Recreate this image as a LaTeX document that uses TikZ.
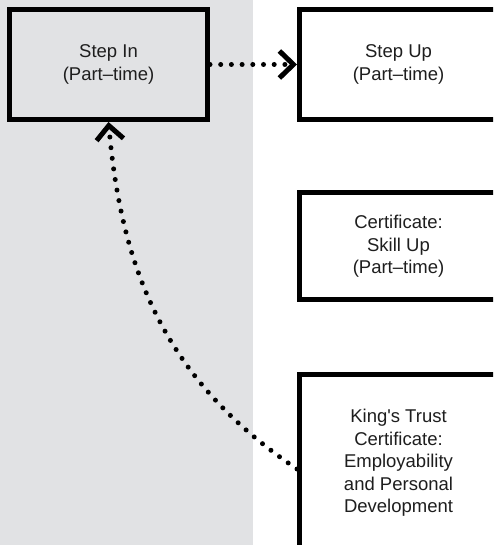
\documentclass[tikz,border=0pt]{standalone}
\usepackage{fontspec}
\setmainfont{Liberation Sans}
\usetikzlibrary{arrows.meta,positioning}
\definecolor{panelgrey}{HTML}{E1E2E4}
\definecolor{inkdark}{HTML}{1E1E1E}
\tikzset{course/.style={rectangle,draw=black,line width=5pt,fill=white,minimum width=198pt,minimum height=110pt,inner sep=2pt,align=center,text=inkdark,font=\fontsize{18.5}{22.5}\selectfont},route/.style={line width=5pt,line cap=round,dash pattern=on 0pt off 10.7pt,-{Straight Barb[length=14pt,width=27pt,line width=5pt]}}}
\begin{document}
\begin{tikzpicture}[x=1pt,y=1pt]
\useasboundingbox (0,0) rectangle (493,545);
\clip (0,0) rectangle (493,545);
\fill[panelgrey] (0,0) rectangle (253,545);
\node[course,fill=panelgrey] (stepin) at (108.5,480.5) {Step In\\(Part--time)};
\node[course] (stepup) at (398.5,480.5) {Step Up\\(Part--time)};
\node[course,minimum height=107.5pt] (skillup) at (398.5,298.75) {Certificate:\\Skill Up\\(Part--time)};
\node[course,minimum height=177pt] (kingstrust) at (398.5,82) {King\textquotesingle s Trust\\Certificate:\\Employability\\and Personal\\Development};
\draw[route] (stepin) -- (stepup);
\draw[route] ([yshift=-6pt]kingstrust.west) to[out=146,in=-85] (stepin.south);
\end{tikzpicture}
\end{document}
